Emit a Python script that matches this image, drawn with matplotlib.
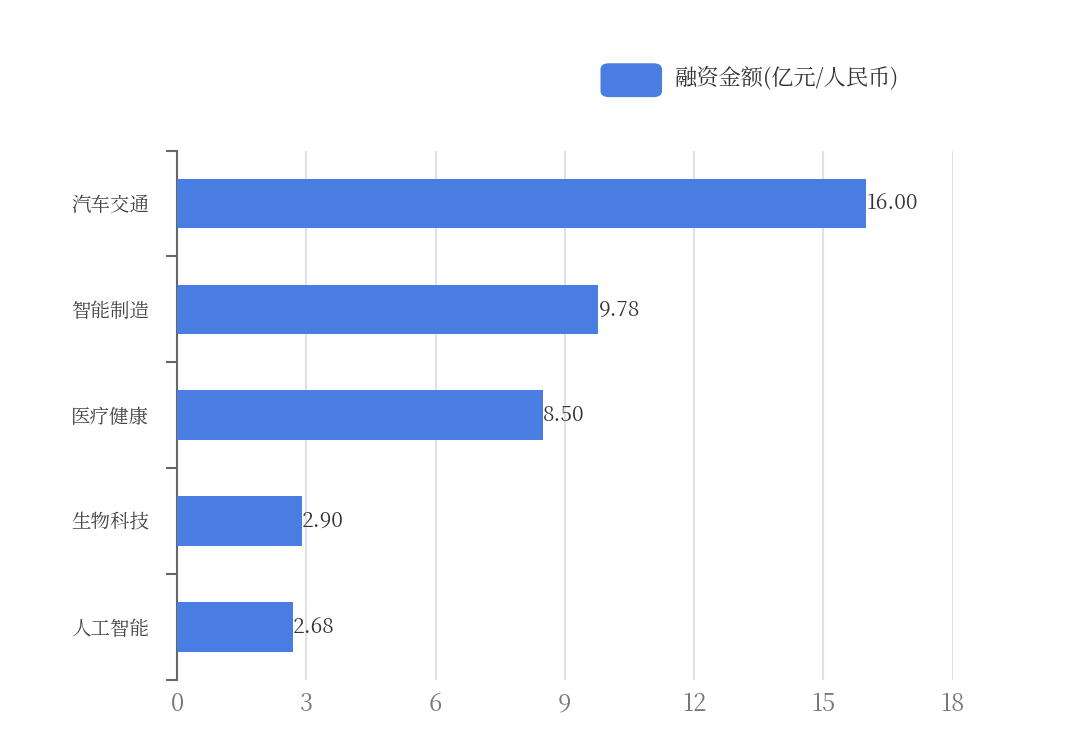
import matplotlib.pyplot as plt
import numpy as np
from matplotlib import font_manager as fm
from matplotlib.patches import FancyBboxPatch

cjk = [f.name for f in fm.fontManager.ttflist if 'CJK' in f.name]
if not cjk:
    import glob
    for p in glob.glob('/usr/share/fonts/**/*CJK*', recursive=True):
        fm.fontManager.addfont(p)
    cjk = [f.name for f in fm.fontManager.ttflist if 'CJK' in f.name]
plt.rcParams['font.family'] = (sorted(cjk, key=lambda n: 'SC' not in n)[:1] or []) + ['DejaVu Sans']

categories = ['汽车交通', '智能制造', '医疗健康', '生物科技', '人工智能']
values = [16.00, 9.78, 8.50, 2.90, 2.68]
xticks = [0, 3, 6, 9, 12, 15, 18]
legend_label = '融资金额(亿元/人民币)'
bar_color = '#4A7DE2'

fig = plt.figure(figsize=(10.8, 7.53), dpi=100)
ax = fig.add_axes([0.164, 0.097, 0.718, 0.703])

y = np.arange(len(categories))
ax.barh(y, values, height=0.47, color=bar_color, zorder=3)
for yi, v in zip(y, values):
    ax.text(v, yi, f'{v:.2f}', va='center', ha='left', fontsize=15, color='#333333', zorder=4)

ax.set_ylim(len(categories) - 0.5, -0.5)
ax.set_xlim(0, 18)
ax.set_yticks(y)
ax.set_yticklabels(categories, fontsize=14, color='#444444')
ax.tick_params(axis='y', length=0, pad=20)
ax.set_yticks(np.arange(-0.5, len(categories), 1), minor=True)
ax.tick_params(axis='y', which='minor', length=8, color='#666666', width=1.5)

ax.set_xticks(xticks)
ax.set_xticklabels([str(t) for t in xticks], fontsize=17, color='#777777')
ax.tick_params(axis='x', length=0, pad=8)
ax.grid(axis='x', color='#dde2ea', linewidth=1.5, zorder=0)

for s in ['top', 'right', 'bottom']:
    ax.spines[s].set_visible(False)
ax.spines['left'].set_color('#666666')
ax.spines['left'].set_linewidth(1.5)

# legend
patch = FancyBboxPatch((0.556, 0.871), 0.057, 0.045, boxstyle='round,pad=0,rounding_size=0.008',
                       transform=fig.transFigure, facecolor=bar_color, edgecolor='none')
fig.patches.append(patch)
fig.text(0.625, 0.895, legend_label, fontsize=16, color='#333333', va='center', ha='left')

plt.savefig('out.png', dpi=100)
